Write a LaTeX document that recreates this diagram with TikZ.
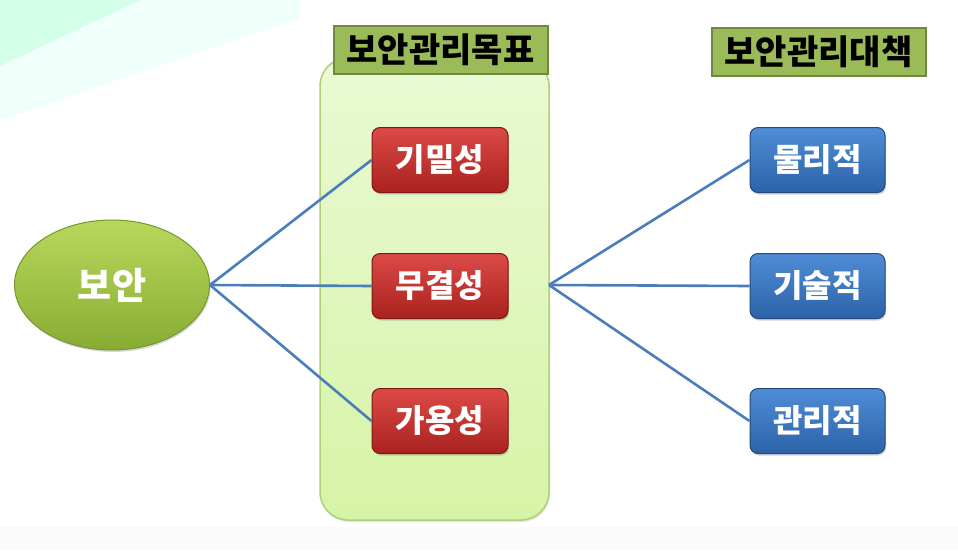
\documentclass[tikz,border=0pt]{standalone}
\usepackage{fontspec}
\newfontfamily\kr{Noto Sans CJK KR}
\usetikzlibrary{shapes.geometric,shadows}
\definecolor{linecol}{HTML}{4A7EBB}
\definecolor{titlefill}{HTML}{9BBB59}
\definecolor{titledraw}{HTML}{71893F}
\definecolor{redtop}{HTML}{DC4A46}
\definecolor{redbot}{HTML}{A9221F}
\definecolor{reddraw}{HTML}{7E1614}
\definecolor{bluetop}{HTML}{4F8DD6}
\definecolor{bluebot}{HTML}{2C62A8}
\definecolor{bluedraw}{HTML}{23497E}
\tikzset{
  redbox/.style={draw=reddraw, line width=1pt, rounded corners=8pt,
    top color=redtop, bottom color=redbot,
    minimum width=136pt, minimum height=65pt, font=\kr\bfseries\fontsize{32}{34}\selectfont,
    text=white, drop shadow={shadow xshift=1pt, shadow yshift=-2pt, opacity=0.35}},
  bluebox/.style={draw=bluedraw, line width=1pt, rounded corners=8pt,
    top color=bluetop, bottom color=bluebot,
    minimum width=135pt, minimum height=65pt, font=\kr\bfseries\fontsize{32}{34}\selectfont,
    text=white, drop shadow={shadow xshift=1pt, shadow yshift=-2pt, opacity=0.35}},
  titlebox/.style={draw=titledraw, line width=2pt, fill=titlefill,
    minimum width=214pt, minimum height=48pt, inner sep=0pt,
    font=\kr\bfseries\fontsize{34}{36}\selectfont, text=black},
  conn/.style={draw=linecol, line width=2.6pt}
}
\begin{document}
\begin{tikzpicture}[x=1pt,y=-1pt]
\path[use as bounding box] (0,0) rectangle (958,550);
% faint background
\fill[green!40!cyan!12!white, opacity=0.5] (0,0) -- (300,0) -- (300,18) -- (0,120) -- cycle;
\fill[green!50!cyan!22!white, opacity=0.7] (0,0) -- (140,0) -- (0,66) -- cycle;
\fill[black!2] (0,527) rectangle (958,550);
% panel
\node[draw={rgb,255:red,175;green,208;blue,120}, line width=1.5pt, rounded corners=28pt,
  top color={rgb,255:red,234;green,249;blue,212}, bottom color={rgb,255:red,214;green,244;blue,166},
  minimum width=229pt, minimum height=462pt,
  drop shadow={shadow xshift=1pt, shadow yshift=-2pt, opacity=0.2}] (panel) at (434.5,289) {};
% titles
\node[titlebox] (t1) at (440.5,50) {보안관리목표};
\node[titlebox] (t2) at (818.5,52) {보안관리대책};
% ellipse
\node[ellipse, draw={rgb,255:red,118;green,150;blue,48}, line width=1pt,
  top color={rgb,255:red,184;green,216;blue,92}, bottom color={rgb,255:red,136;green,172;blue,50},
  minimum width=195pt, minimum height=130pt, text=white,
  font=\kr\bfseries\fontsize{37}{39}\selectfont,
  drop shadow={shadow xshift=1pt, shadow yshift=-2pt, opacity=0.3}] (bo) at (112,285) {보안};
% red boxes
\node[redbox] (r1) at (440,160) {기밀성};
\node[redbox] (r2) at (440,286) {무결성};
\node[redbox] (r3) at (440,421) {가용성};
% blue boxes
\node[bluebox] (b1) at (817.5,160) {물리적};
\node[bluebox] (b2) at (817.5,286) {기술적};
\node[bluebox] (b3) at (817.5,421) {관리적};
% connectors
\coordinate (hub) at (549,285);
\draw[conn] (bo.east) -- (r1.west);
\draw[conn] (bo.east) -- (r2.west);
\draw[conn] (bo.east) -- (r3.west);
\draw[conn] (hub) -- (b1.west);
\draw[conn] (hub) -- (b2.west);
\draw[conn] (hub) -- (b3.west);
\end{tikzpicture}
\end{document}
